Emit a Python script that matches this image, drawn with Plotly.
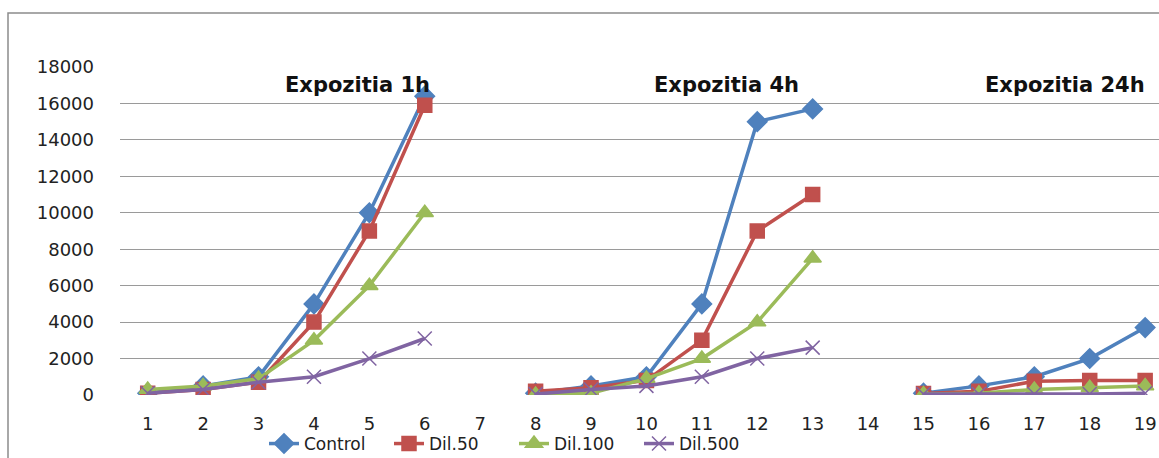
import plotly.graph_objects as go

# Data
categories = list(range(1, 20))
control = [100, 500, 1000, 5000, 10000, 16400, None,
           100, 500, 1000, 5000, 15000, 15700, None,
           100, 500, 1000, 2000, 3700]
dil50 = [100, 300, 700, 4000, 9000, 15900, None,
         200, 400, 800, 3000, 9000, 11000, None,
         80, 200, 750, 800, 800]
dil100 = [300, 500, 900, 3000, 6000, 10000, None,
          30, 100, 900, 2000, 4000, 7500, None,
          50, 100, 300, 400, 500]
dil500 = [100, 300, 700, 1000, 2000, 3100, None,
          50, 300, 500, 1000, 2000, 2600, None,
          50, 50, 50, 50, 100]
y_ticks = list(range(0, 18001, 2000))
block_titles = ["Expozitia 1h", "Expozitia 4h", "Expozitia 24h"]

FONT = "DejaVu Sans"
series = [
    ("Control", control, "#4F81BD", "diamond", 15),
    ("Dil.50", dil50, "#C0504D", "square", 14),
    ("Dil.100", dil100, "#9BBB59", "triangle-up", 15),
    ("Dil.500", dil500, "#8064A2", "x-thin-open", 14),
]

fig = go.Figure()
for name, vals, color, sym, size in series:
    fig.add_trace(go.Scatter(
        x=categories, y=vals, name=name, mode="lines+markers",
        connectgaps=False,
        line=dict(color=color, width=3.5),
        marker=dict(symbol=sym, size=size, color=color,
                    line=dict(color=color, width=1.5)),
    ))

L, T, B = 120, 67, 395
W, H = 1159, 458
plot_h = B - T
plot_w = W - L

fig.update_layout(
    width=W, height=H,
    margin=dict(l=L, r=0, t=T, b=H - B, autoexpand=False),
    paper_bgcolor="white", plot_bgcolor="white",
    font=dict(family=FONT, size=18, color="#222222"),
    showlegend=True,
    legend=dict(orientation="h", x=(272 - 8 - L) / plot_w, xanchor="left",
                y=(B - 444) / plot_h, yanchor="middle",
                font=dict(family=FONT, size=17, color="#222222"),
                bgcolor="rgba(0,0,0,0)", tracegroupgap=0, itemwidth=30,
                entrywidth=80, entrywidthmode="pixels"),
    xaxis=dict(range=[0.5, 19.25], tickmode="array", tickvals=categories,
               ticktext=[str(c) for c in categories], showgrid=False,
               zeroline=False, showline=False, ticks="",
               ticklabelstandoff=16,
               tickfont=dict(family=FONT, size=18, color="#222222")),
    yaxis=dict(range=[0, 18000], tickmode="array", tickvals=y_ticks,
               ticktext=[str(v) for v in y_ticks], showgrid=True,
               gridcolor="#9a9a9a", gridwidth=1, zeroline=False,
               showline=False, ticks="", ticklabelstandoff=25,
               tickfont=dict(family=FONT, size=18, color="#222222")),
)

# Gray border of the chart area (extends beyond the visible page)
fig.add_shape(type="rect", xref="paper", yref="paper",
              x0=(8 - L) / plot_w, x1=1.3,
              y0=-0.6, y1=(B - 13) / plot_h,
              line=dict(color="#8c8c8c", width=1.5), fillcolor="rgba(0,0,0,0)",
              layer="below")

title_y = (B - 85) / plot_h
title_font = dict(family=FONT, size=21, color="#111111")
fig.add_annotation(text="<b>" + block_titles[0] + "</b>", x=4.78, y=title_y,
                   xref="x", yref="paper", showarrow=False, xanchor="center",
                   yanchor="middle", font=title_font)
fig.add_annotation(text="<b>" + block_titles[1] + "</b>", x=11.45, y=title_y,
                   xref="x", yref="paper", showarrow=False, xanchor="center",
                   yanchor="middle", font=title_font)
fig.add_annotation(text="<b>" + block_titles[2] + "</b>", x=16.07, y=title_y,
                   xref="x", yref="paper", showarrow=False, xanchor="left",
                   yanchor="middle", font=title_font)

fig.write_html(
    "out.html",
    config={"displayModeBar": False},
    post_script="document.body.style.margin='0';document.body.style.overflow='hidden';",
)
